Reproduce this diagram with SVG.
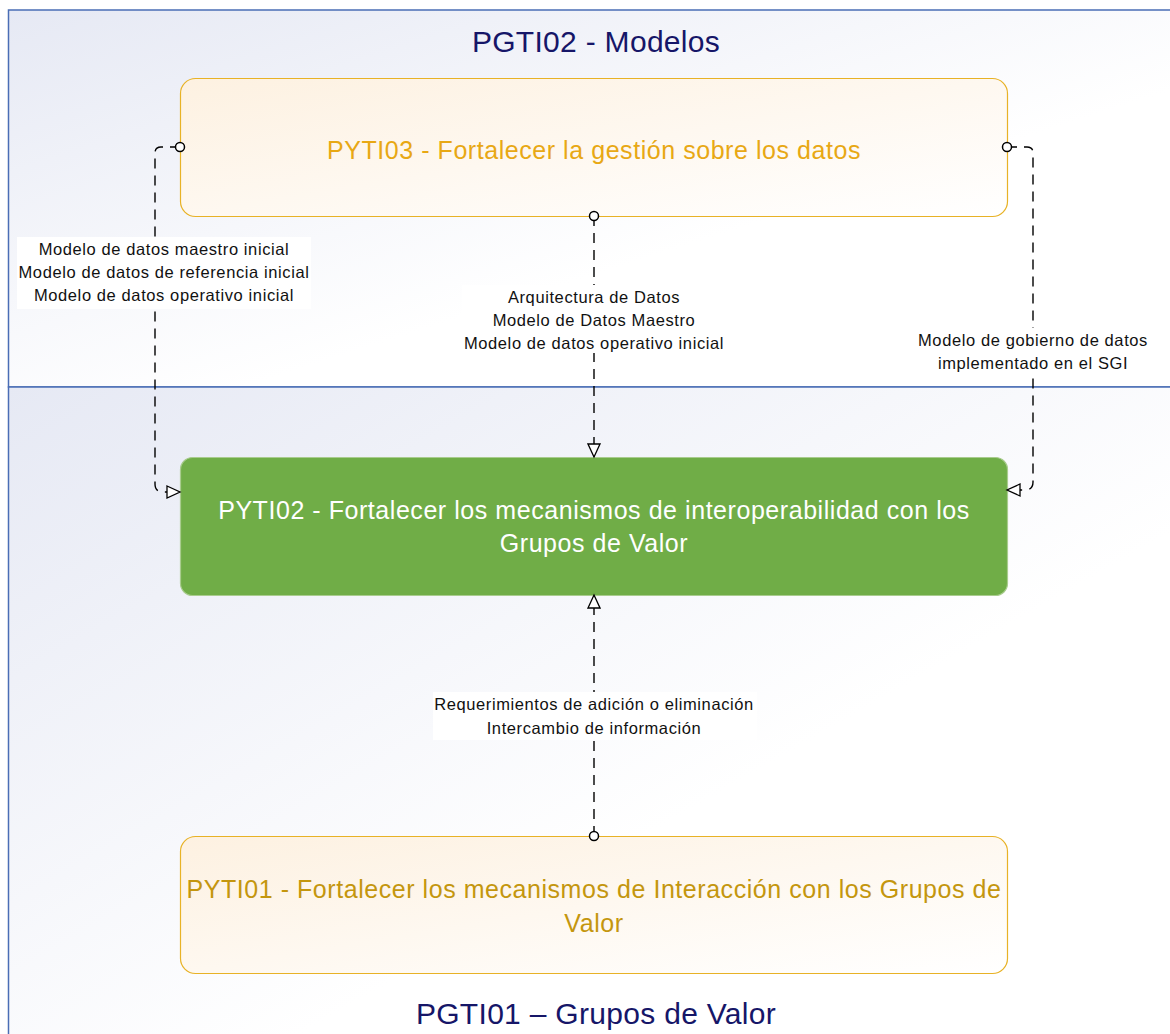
<svg xmlns="http://www.w3.org/2000/svg" width="1170" height="1034" viewBox="0 0 1170 1034">
<defs>
<linearGradient id="lane" x1="0" y1="0" x2="1" y2="1">
<stop offset="0" stop-color="#e6e9f4"/>
<stop offset="0.6" stop-color="#ffffff"/>
</linearGradient>
<linearGradient id="orange" x1="0" y1="0" x2="1" y2="1">
<stop offset="0" stop-color="#fdf1e1"/>
<stop offset="1" stop-color="#ffffff"/>
</linearGradient>
<marker id="circ" markerWidth="12" markerHeight="12" refX="6" refY="6" markerUnits="userSpaceOnUse" orient="auto">
<circle cx="6" cy="6" r="4.5" fill="#fff" stroke="#000" stroke-width="1.5"/>
</marker>
<marker id="tri" markerWidth="16" markerHeight="14" refX="14" refY="7" markerUnits="userSpaceOnUse" orient="auto">
<path d="M1,1 L14,7 L1,13 Z" fill="#fff" stroke="#000" stroke-width="1.3"/>
</marker>
</defs>
<style>
.lane{fill:url(#lane);stroke:#4a6db5;stroke-width:1.5}
.title{font-family:"Liberation Sans",Arial,sans-serif;font-size:30px;letter-spacing:0.3px;fill:#161668;text-anchor:middle}
.onode{fill:url(#orange);stroke:#e8b226;stroke-width:1.2}
.gnode{fill:#70ad47;stroke:#a9cc8e;stroke-width:1.2}
.ntext{font-family:"Liberation Sans",Arial,sans-serif;font-size:25px;letter-spacing:0.55px;text-anchor:middle}
.conn{fill:none;stroke:#000;stroke-width:1.4;stroke-dasharray:10,7}
.lbl{font-family:"Liberation Sans",Arial,sans-serif;font-size:16.5px;letter-spacing:0.6px;fill:#111;text-anchor:middle}
.lblbg{fill:#fff}
</style>
<rect width="1170" height="1034" fill="#fff"/>
<g id="lane-top">
<rect class="lane" x="8.5" y="10" width="1180" height="377"/>
<text class="title" x="596" y="52">PGTI02 - Modelos</text>
</g>
<g id="lane-bottom">
<rect class="lane" x="8.5" y="387" width="1180" height="680"/>
<text class="title" x="596" y="1024">PGTI01 – Grupos de Valor</text>
</g>
<g id="PYTI03">
<rect class="onode" x="180.5" y="78.5" width="827" height="138" rx="15"/>
<text class="ntext" x="594" y="159" fill="#e8a814">PYTI03 - Fortalecer la gestión sobre los datos</text>
</g>
<g id="PYTI02">
<rect class="gnode" x="180.5" y="457.5" width="827" height="138" rx="12"/>
<text class="ntext" x="594" y="519" fill="#fff">PYTI02 - Fortalecer los mecanismos de interoperabilidad con los</text>
<text class="ntext" x="594" y="552" fill="#fff">Grupos de Valor</text>
</g>
<g id="PYTI01">
<rect class="onode" x="180.5" y="836.5" width="827" height="137" rx="15"/>
<text class="ntext" x="594" y="898" fill="#c4960e">PYTI01 - Fortalecer los mecanismos de Interacción con los Grupos de</text>
<text class="ntext" x="594" y="932" fill="#c4960e">Valor</text>
</g>
<g id="connectors">
<path class="conn" d="M180,147 L161,147 Q155,147 155,153 L155,484 Q155,492 163,492 L180,492" marker-start="url(#circ)" marker-end="url(#tri)"/>
<path class="conn" d="M1007,147 L1027,147 Q1033,147 1033,153 L1033,482 Q1033,490 1025,490 L1007,490" marker-start="url(#circ)" marker-end="url(#tri)"/>
<path class="conn" d="M594,216 L594,457" marker-start="url(#circ)" marker-end="url(#tri)"/>
<path class="conn" d="M594,836 L594,595" marker-start="url(#circ)" marker-end="url(#tri)"/>
<rect class="lblbg" x="17" y="237" width="294" height="72"/>
<text class="lbl" x="164" y="255">Modelo de datos maestro inicial</text>
<text class="lbl" x="164" y="278">Modelo de datos de referencia inicial</text>
<text class="lbl" x="164" y="301">Modelo de datos operativo inicial</text>
<rect class="lblbg" x="462" y="285" width="266" height="68"/>
<text class="lbl" x="594" y="303">Arquitectura de Datos</text>
<text class="lbl" x="594" y="326">Modelo de Datos Maestro</text>
<text class="lbl" x="594" y="349">Modelo de datos operativo inicial</text>
<rect class="lblbg" x="910" y="328" width="250" height="46"/>
<text class="lbl" x="1033" y="346">Modelo de gobierno de datos</text>
<text class="lbl" x="1033" y="369">implementado en el SGI</text>
<rect class="lblbg" x="433" y="692" width="324" height="48"/>
<text class="lbl" x="594" y="710">Requerimientos de adición o eliminación</text>
<text class="lbl" x="594" y="734">Intercambio de información</text>
</g>
</svg>
